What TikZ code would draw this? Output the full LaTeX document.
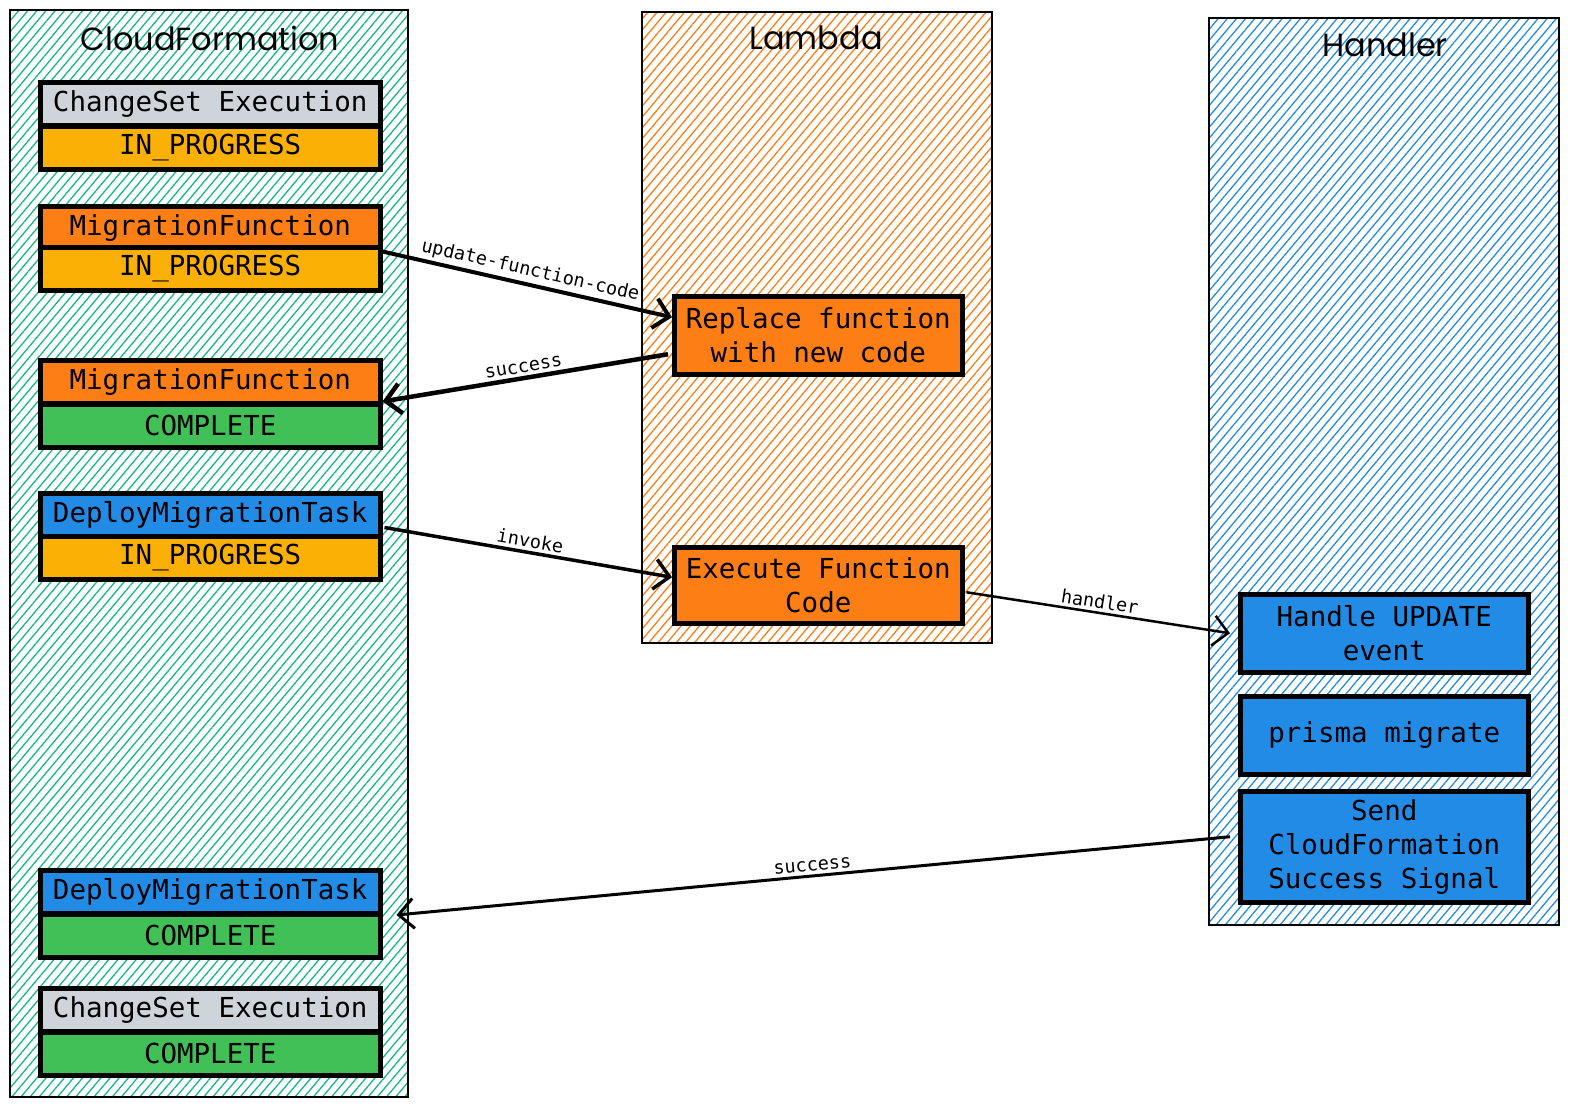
\documentclass[tikz,border=0pt]{standalone}
\usepackage{fontspec}
\setmonofont{DejaVu Sans Mono}
\newfontfamily\handfont{Poppins}
\usetikzlibrary{patterns.meta,arrows.meta,calc}
\definecolor{cfgreen}{HTML}{12B886}
\definecolor{lborange}{HTML}{FD7E14}
\definecolor{hblue}{HTML}{228BE6}
\definecolor{sgrey}{HTML}{CED4DA}
\definecolor{syellow}{HTML}{FAB005}
\definecolor{sgreen}{HTML}{40C057}
\newcommand{\boxfont}{\fontsize{27.5}{34}\selectfont\ttfamily}
\newcommand{\lblfont}{\fontsize{18.5}{20}\selectfont\ttfamily}
\newcommand{\titlefont}{\fontsize{32}{34}\selectfont\handfont}
\begin{document}
\begin{tikzpicture}[x=1pt,y=1pt,
  container/.style={draw=black,line width=2pt},
  hatch/.style={pattern={Lines[angle=50,distance=7pt,line width=1.3pt]},pattern color=#1},
  stbox/.style={draw=black,line width=4.5pt,minimum width=340pt,minimum height=43pt,
    inner sep=0pt,anchor=north west,font=\boxfont},
  actbox/.style={draw=black,line width=4.5pt,minimum width=288pt,inner sep=0pt,
    anchor=north west,font=\boxfont,align=center},
  lbl/.style={font=\lblfont,sloped,above,inner sep=3pt},
  conn/.style={draw=black,line width=#1,-{Straight Barb[length=15pt,width=30pt,line width=#1]}},
  ttl/.style={font=\titlefont,anchor=center}
]
\path[use as bounding box] (0,0) rectangle (1574,-1111);
% containers
\path[hatch=cfgreen] (10,-10) rectangle (408,-1097);
\draw[container] (10,-10) rectangle (408,-1097);
\path[hatch=lborange] (642,-12) rectangle (992,-643);
\draw[container] (642,-12) rectangle (992,-643);
\path[hatch=hblue] (1209,-18) rectangle (1559,-925);
\draw[container] (1209,-18) rectangle (1559,-925);
\node[ttl] (tcf) at (210,-38) {CloudFormation};
\node[ttl] (tlb) at (816,-38) {Lambda};
\node[ttl] (thd) at (1385,-45) {Handler};
% CloudFormation states
\node[stbox,fill=sgrey] (cs1) at (38,-80) {ChangeSet Execution};
\node[stbox,fill=syellow] (cs1s) at (38,-124) {IN\_PROGRESS};
\node[stbox,fill=lborange] (mf1) at (38,-204) {MigrationFunction};
\node[stbox,fill=syellow] (mf1s) at (38,-245) {IN\_PROGRESS};
\node[stbox,fill=lborange] (mf2) at (38,-358) {MigrationFunction};
\node[stbox,fill=sgreen] (mf2s) at (38,-402) {COMPLETE};
\node[stbox,fill=hblue] (dm1) at (38,-491) {DeployMigrationTask};
\node[stbox,fill=syellow] (dm1s) at (38,-534) {IN\_PROGRESS};
\node[stbox,fill=hblue] (dm2) at (38,-868) {DeployMigrationTask};
\node[stbox,fill=sgreen] (dm2s) at (38,-912) {COMPLETE};
\node[stbox,fill=sgrey] (cs2) at (38,-986) {ChangeSet Execution};
\node[stbox,fill=sgreen] (cs2s) at (38,-1030) {COMPLETE};
% Lambda
\node[actbox,fill=lborange,minimum height=78pt] (rep) at (672,-294) {Replace function\\with new code};
\node[actbox,fill=lborange,minimum height=76pt] (exe) at (672,-545) {Execute Function\\Code};
% Handler
\node[actbox,fill=hblue,minimum height=78pt] (hup) at (1238,-592) {Handle UPDATE\\event};
\node[actbox,fill=hblue,minimum height=78pt] (pm) at (1238,-694) {prisma migrate};
\node[actbox,fill=hblue,minimum height=111pt] (sig) at (1238,-789) {Send\\CloudFormation\\Success Signal};
% connectors
\draw[conn=4pt] (mf1.south east) -- node[lbl] {update-function-code} ([yshift=18pt]rep.west);
\draw[conn=4.5pt] ([xshift=-4pt,yshift=-19pt]rep.west) -- node[lbl] {success} ([yshift=4pt]mf2.south east);
\draw[conn=3.5pt] ([xshift=2pt,yshift=11pt]dm1.south east) -- node[lbl] {invoke} ([yshift=8pt]exe.west);
\draw[conn=2.5pt] ([xshift=2pt,yshift=-7pt]exe.east) -- node[lbl] {handler} ([xshift=-8pt]hup.west);
\draw[conn=3pt] ([xshift=-8pt,yshift=10pt]sig.west) -- node[lbl] {success} ([xshift=14pt,yshift=-3pt]dm2s.north east);
\end{tikzpicture}
\end{document}
